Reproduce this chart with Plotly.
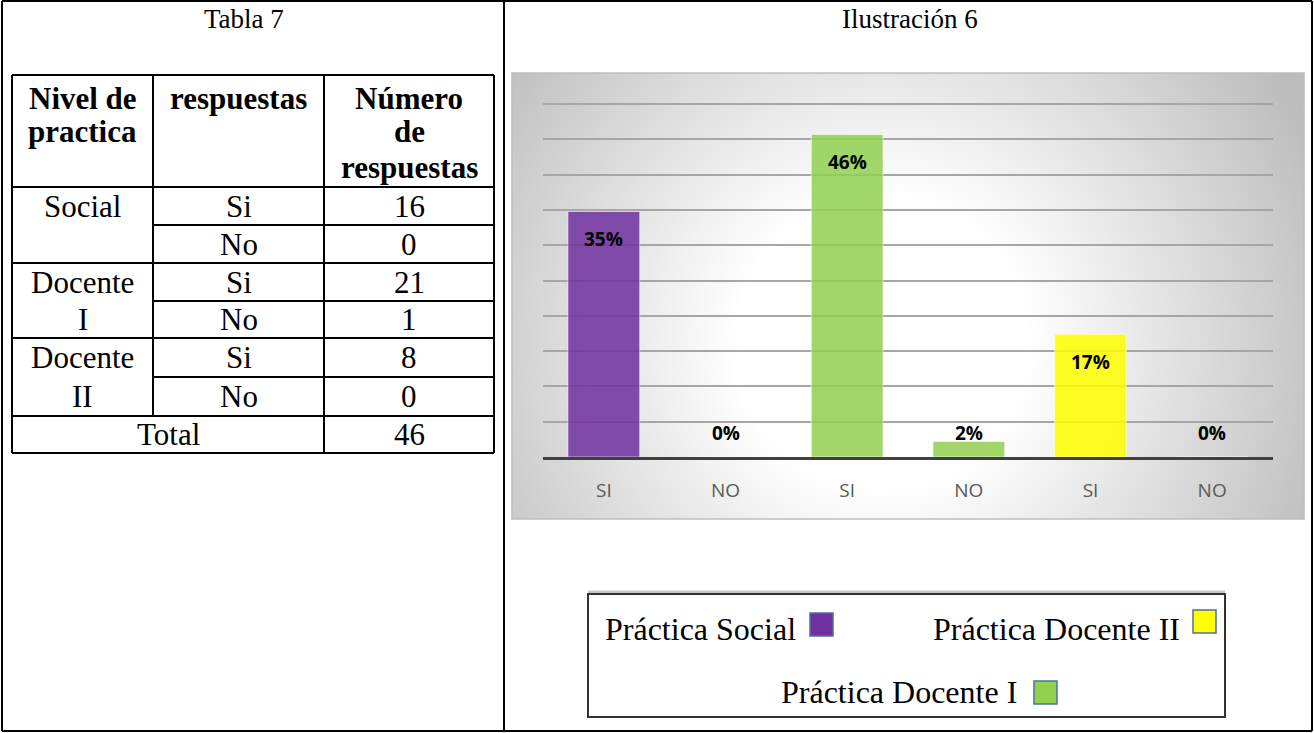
import base64
import plotly.graph_objects as go

W, H = 1314, 733

# datos de la tabla 7
nivel_filas = ["Social", "", "Docente", "I", "Docente", "II"]
respuestas = ["Si", "No", "Si", "No", "Si", "No"]
numeros = [16, 0, 21, 1, 8, 0]
total = 46

# datos de la ilustracion 6
categorias = ["SI", "NO", "SI", "NO", "SI", "NO"]
porcentajes = [34.8, 0, 45.7, 2.2, 17.4, 0]
etiquetas = ["35%", "0%", "46%", "2%", "17%", "0%"]
colores = ["#7030a0", "#7030a0", "#92d050", "#92d050", "#ffff00", "#ffff00"]

# leyenda (dibujada aparte, como en el original)
leyenda_textos = ["Práctica Social", "Práctica Docente II", "Práctica Docente I"]
leyenda_colores = ["#7030a0", "#ffff00", "#92d050"]


def px(x):
    return x / W


def py(y):
    return 1 - y / H


SERIF = "Liberation Serif"
SANS = "Open Sans"

fig = go.Figure()

xs = list(range(len(categorias)))
fig.add_trace(go.Bar(
    x=xs, y=porcentajes, width=0.59,
    marker=dict(color=colores, opacity=0.85,
                line=dict(color="rgba(255,255,255,0.6)", width=1)),
    hoverinfo="skip", showlegend=False,
))

shapes = []
annotations = []


def line(x0, y0, x1, y1, w=2, color="black"):
    shapes.append(dict(type="line", xref="paper", yref="paper",
                       x0=px(x0), y0=py(y0), x1=px(x1), y1=py(y1),
                       line=dict(color=color, width=w)))


def text(x, y, s, size=31, bold=False, family=SERIF, anchor="center", color="black"):
    annotations.append(dict(xref="paper", yref="paper", x=px(x), y=py(y),
                            text=f"<b>{s}</b>" if bold else s, showarrow=False,
                            xanchor=anchor, yanchor="middle",
                            font=dict(family=family, size=size, color=color)))


# marco exterior y divisor
line(2, 1, 1312, 1)
line(2, 731, 1312, 731)
line(2, 1, 2, 731)
line(1312, 1, 1312, 731)
line(504, 1, 504, 731)

text(244, 19, "Tabla 7", size=27)
text(910, 19, "Ilustración 6", size=27)

# tabla
c0, c1, c2, c3 = 12, 153, 324, 494
top, hdr = 75, 187
filas = [187, 225, 263, 301, 338, 377, 416, 453]
line(c0, top, c3, top)
line(c0, filas[-1], c3, filas[-1])
line(c0, top, c0, filas[-1])
line(c3, top, c3, filas[-1])
line(c1, top, c1, filas[-2])
line(c2, top, c2, filas[-1])
line(c0, hdr, c3, hdr)
for i, yl in enumerate(filas[1:-1], start=1):
    x_ini = c1 if i % 2 == 1 else c0
    line(x_ini, yl, c3, yl)

xc = [(c0 + c1) / 2, (c1 + c2) / 2, (c2 + c3) / 2]
text(xc[0], 99, "Nivel de", bold=True)
text(xc[0], 132, "practica", bold=True)
text(xc[1], 99, "respuestas", bold=True)
text(xc[2], 99, "Número", bold=True)
text(xc[2], 132, "de", bold=True)
text(xc[2], 167, "respuestas", bold=True)
for i in range(len(respuestas)):
    ym = (filas[i] + filas[i + 1]) / 2
    if nivel_filas[i]:
        text(xc[0], ym, nivel_filas[i])
    text(xc[1], ym, respuestas[i])
    text(xc[2], ym, str(numeros[i]))
ym = (filas[-2] + filas[-1]) / 2
text((c0 + c2) / 2, ym, "Total")
text(xc[2], ym, str(total))

# etiquetas de datos
for xv, v, lab in zip(xs, porcentajes, etiquetas):
    grande = v >= 5
    annotations.append(dict(x=xv, y=v if grande else 0, xref="x", yref="y",
                            text=f"<b>{lab}</b>", showarrow=False,
                            yshift=-28 if grande else 24, yanchor="middle",
                            font=dict(family=SANS, size=19, color="black")))

# caja del grafico
bx0, by0, bx1, by1 = 512, 73, 1304, 519
shapes.append(dict(type="rect", xref="paper", yref="paper",
                   x0=px(bx0), y0=py(by0), x1=px(bx1), y1=py(by1),
                   line=dict(color="#bfbfbf", width=1.5), layer="below"))

svg = (
    '<svg xmlns="http://www.w3.org/2000/svg" width="792" height="446" '
    'preserveAspectRatio="none" viewBox="0 0 792 446">'
    '<defs><radialGradient id="g" gradientUnits="userSpaceOnUse" cx="370" cy="270" r="480">'
    '<stop offset="0" stop-color="#ffffff"/><stop offset="0.3" stop-color="#ffffff"/>'
    '<stop offset="1" stop-color="#bcbcbc"/></radialGradient></defs>'
    '<rect width="792" height="446" fill="url(#g)"/></svg>'
)
fondo = "data:image/svg+xml;base64," + base64.b64encode(svg.encode()).decode()

# leyenda
lx0, ly0, lx1, ly1 = 588, 594, 1225, 717
line(lx0, ly0 - 2, lx1, ly0 - 2, w=3, color="#c8c8c8")
shapes.append(dict(type="rect", xref="paper", yref="paper",
                   x0=px(lx0), y0=py(ly0), x1=px(lx1), y1=py(ly1),
                   line=dict(color="#333333", width=2)))
ley_pos = [(798, 629, 810, 613), (1182, 629, 1193, 610), (1019, 692, 1034, 681)]
for t, col, (tx, ty, sx, sy) in zip(leyenda_textos, leyenda_colores, ley_pos):
    text(tx, ty, t, size=32, anchor="right")
    shapes.append(dict(type="rect", xref="paper", yref="paper",
                       x0=px(sx), y0=py(sy), x1=px(sx + 23), y1=py(sy + 23),
                       fillcolor=col, line=dict(color="#4f6fa0", width=1.5)))

fig.update_layout(
    width=W, height=H,
    margin=dict(l=0, r=0, t=0, b=0),
    paper_bgcolor="white",
    plot_bgcolor="rgba(0,0,0,0)",
    shapes=shapes,
    annotations=annotations,
    images=[dict(source=fondo, xref="paper", yref="paper",
                 x=px(bx0), y=py(by0), sizex=px(bx1) - px(bx0),
                 sizey=py(by0) - py(by1), sizing="stretch", layer="below")],
    xaxis=dict(domain=[px(543), px(1273)], range=[-0.5, 5.5],
               tickvals=xs, ticktext=categorias, showgrid=False,
               showline=True, linecolor="#404040", linewidth=3,
               ticklabelstandoff=14,
               tickfont=dict(family=SANS, size=19, color="#595959")),
    yaxis=dict(domain=[py(457), py(102)], range=[0, 50.3], dtick=5,
               showticklabels=False, gridcolor="#a6a6a6", gridwidth=1.5,
               zeroline=False),
    bargap=0.41,
)

fig.write_html("out.html", config={"displayModeBar": False},
               post_script="document.body.style.margin='0';")
